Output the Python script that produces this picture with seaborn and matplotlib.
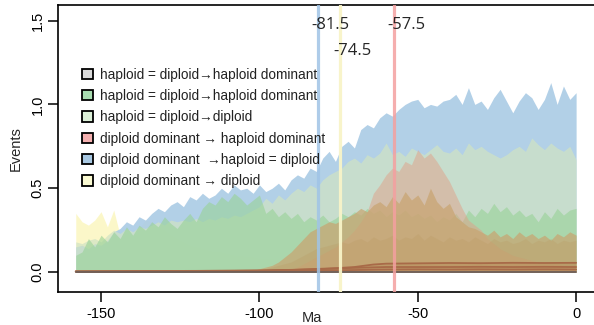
import numpy as np
import pandas as pd
import matplotlib
matplotlib.use("Agg")
import matplotlib.pyplot as plt
from matplotlib.patches import Patch
import seaborn as sns

# ---------------- data ----------------
ma = list(range(-158, 1, 2))  # 80 time points (Ma)

blue = [0.15, 0.16, 0.14, 0.17, 0.16, 0.19, 0.24, 0.26, 0.30, 0.28,
        0.33, 0.31, 0.35, 0.38, 0.36, 0.40, 0.42, 0.39, 0.45, 0.43,
        0.47, 0.44, 0.46, 0.50, 0.47, 0.52, 0.49, 0.50, 0.47, 0.52,
        0.48, 0.50, 0.53, 0.49, 0.55, 0.58, 0.56, 0.62, 0.60, 0.68,
        0.72, 0.66, 0.75, 0.78, 0.74, 0.85, 0.88, 0.86, 0.92, 0.95,
        0.93, 0.97, 1.00, 1.02, 1.03, 0.98, 1.00, 0.99, 1.02, 1.03,
        1.06, 1.00, 1.10, 1.00, 1.02, 0.97, 1.04, 1.09, 1.02, 0.95,
        1.02, 1.07, 1.04, 0.97, 1.03, 1.13, 1.00, 1.11, 1.03, 1.07]

light_green = [0.18, 0.17, 0.19, 0.20, 0.18, 0.22, 0.25, 0.23, 0.26, 0.24,
               0.27, 0.26, 0.28, 0.30, 0.28, 0.31, 0.30, 0.31, 0.30, 0.32,
               0.30, 0.32, 0.31, 0.33, 0.32, 0.34, 0.33, 0.35, 0.37, 0.39,
               0.44, 0.41, 0.46, 0.43, 0.47, 0.50, 0.48, 0.52, 0.50, 0.55,
               0.58, 0.60, 0.62, 0.66, 0.68, 0.65, 0.70, 0.68, 0.71, 0.77,
               0.70, 0.72, 0.69, 0.74, 0.72, 0.70, 0.73, 0.76, 0.72, 0.71,
               0.74, 0.70, 0.77, 0.73, 0.75, 0.72, 0.70, 0.68, 0.70, 0.73,
               0.75, 0.72, 0.80, 0.76, 0.73, 0.77, 0.74, 0.72, 0.75, 0.67]

green = [0.10, 0.12, 0.20, 0.15, 0.22, 0.18, 0.24, 0.20, 0.27, 0.22,
         0.28, 0.25, 0.30, 0.27, 0.33, 0.29, 0.26, 0.31, 0.35, 0.30,
         0.38, 0.42, 0.40, 0.45, 0.42, 0.47, 0.44, 0.40, 0.43, 0.46,
         0.35, 0.38, 0.33, 0.36, 0.32, 0.35, 0.30, 0.33, 0.31, 0.34,
         0.30, 0.32, 0.35, 0.33, 0.36, 0.34, 0.38, 0.35, 0.37, 0.33,
         0.36, 0.34, 0.37, 0.33, 0.35, 0.32, 0.34, 0.30, 0.33, 0.31,
         0.35, 0.30, 0.37, 0.33, 0.38, 0.35, 0.41, 0.36, 0.39, 0.34,
         0.37, 0.33, 0.35, 0.30, 0.36, 0.32, 0.38, 0.34, 0.37, 0.38]

yellow = [0.35, 0.30, 0.28, 0.31, 0.36, 0.27, 0.37, 0.22, 0.24, 0.20,
          0.26, 0.31, 0.30, 0.27, 0.25, 0.22, 0.20, 0.18, 0.16, 0.15,
          0.14, 0.13, 0.12, 0.12, 0.11, 0.10, 0.10, 0.09, 0.09, 0.08,
          0.08, 0.08, 0.07, 0.08, 0.07, 0.07, 0.08, 0.07, 0.06, 0.07,
          0.06, 0.07, 0.06, 0.06, 0.07, 0.06, 0.06, 0.05, 0.06, 0.06,
          0.05, 0.06, 0.05, 0.06, 0.05, 0.05, 0.06, 0.05, 0.05, 0.05,
          0.05, 0.05, 0.04, 0.05, 0.05, 0.04, 0.05, 0.04, 0.05, 0.04,
          0.04, 0.05, 0.04, 0.04, 0.05, 0.04, 0.04, 0.04, 0.05, 0.04]

pink = [0.00, 0.00, 0.00, 0.00, 0.00, 0.00, 0.00, 0.00, 0.00, 0.00,
        0.00, 0.00, 0.00, 0.00, 0.00, 0.00, 0.00, 0.00, 0.00, 0.00,
        0.00, 0.00, 0.00, 0.00, 0.00, 0.00, 0.00, 0.00, 0.00, 0.00,
        0.00, 0.00, 0.00, 0.01, 0.02, 0.03, 0.05, 0.07, 0.09, 0.11,
        0.13, 0.15, 0.18, 0.21, 0.25, 0.30, 0.36, 0.47, 0.52, 0.58,
        0.62, 0.60, 0.66, 0.64, 0.73, 0.68, 0.71, 0.66, 0.60, 0.54,
        0.46, 0.38, 0.31, 0.28, 0.25, 0.20, 0.17, 0.14, 0.12, 0.10,
        0.09, 0.08, 0.07, 0.06, 0.06, 0.05, 0.05, 0.04, 0.04, 0.04]

tan_peak = [0.00, 0.00, 0.00, 0.00, 0.00, 0.00, 0.00, 0.00, 0.00, 0.00,
            0.00, 0.00, 0.00, 0.00, 0.00, 0.00, 0.00, 0.00, 0.00, 0.00,
            0.00, 0.00, 0.00, 0.00, 0.00, 0.00, 0.00, 0.00, 0.01, 0.02,
            0.03, 0.04, 0.06, 0.09, 0.12, 0.16, 0.20, 0.24, 0.26, 0.28,
            0.30, 0.29, 0.31, 0.33, 0.35, 0.38, 0.36, 0.40, 0.42, 0.39,
            0.45, 0.41, 0.48, 0.43, 0.46, 0.40, 0.50, 0.42, 0.38, 0.41,
            0.33, 0.30, 0.27, 0.26, 0.24, 0.22, 0.25, 0.21, 0.23, 0.20,
            0.24, 0.21, 0.23, 0.20, 0.22, 0.19, 0.23, 0.21, 0.24, 0.22]

tan_low = [0.00, 0.00, 0.00, 0.00, 0.00, 0.00, 0.00, 0.00, 0.00, 0.00,
           0.00, 0.00, 0.00, 0.00, 0.00, 0.00, 0.00, 0.00, 0.00, 0.00,
           0.00, 0.00, 0.00, 0.00, 0.00, 0.00, 0.00, 0.00, 0.00, 0.01,
           0.02, 0.03, 0.04, 0.05, 0.06, 0.08, 0.10, 0.12, 0.14, 0.15,
           0.16, 0.17, 0.18, 0.17, 0.19, 0.20, 0.18, 0.21, 0.19, 0.20,
           0.22, 0.19, 0.21, 0.20, 0.23, 0.19, 0.22, 0.20, 0.18, 0.21,
           0.19, 0.20, 0.18, 0.21, 0.19, 0.17, 0.20, 0.18, 0.19, 0.17,
           0.18, 0.20, 0.17, 0.19, 0.18, 0.20, 0.17, 0.19, 0.18, 0.19]

# thin series near zero
ma_low = [-158, -140, -120, -100, -90, -80, -70, -64, -60, -50, -40, -30, -20, -10, 0]
low_a = [0.005, 0.006, 0.007, 0.010, 0.013, 0.018, 0.030, 0.045, 0.050, 0.052, 0.054, 0.053, 0.055, 0.054, 0.055]
low_b = [0.003, 0.004, 0.005, 0.008, 0.012, 0.020, 0.025, 0.028, 0.030, 0.030, 0.030, 0.031, 0.030, 0.031, 0.030]
low_c = [0.002, 0.003, 0.004, 0.006, 0.008, 0.010, 0.012, 0.014, 0.015, 0.016, 0.015, 0.016, 0.015, 0.016, 0.015]
grey = [0.001, 0.001, 0.001, 0.001, 0.001, 0.001, 0.001, 0.001, 0.001, 0.001, 0.001, 0.001, 0.001, 0.001, 0.001]

event_times = [-81.5, -74.5, -57.5]
event_labels = ["-81.5", "-74.5", "-57.5"]

legend_labels = [
    "haploid = diploid\u2192haploid dominant",
    "haploid = diploid\u2192haploid dominant",
    "haploid = diploid\u2192diploid",
    "diploid dominant \u2192 haploid dominant",
    "diploid dominant  \u2192haploid = diploid",
    "diploid dominant \u2192 diploid",
]
legend_colors = ["#d9d9d9", "#a8dcb0", "#dcf0d8", "#f4b0b0", "#a8c8e2", "#fafad2"]

# ---------------- figure ----------------
sns.set_theme(style="ticks")
plt.rcParams["font.family"] = ["Liberation Sans", "DejaVu Sans"]

fig = plt.figure(figsize=(5.94, 3.25), dpi=100)
W, H = 594, 325
ax = fig.add_axes([58 / W, 1 - 292 / H, 536.8 / W, (292 - 5) / H])

df = pd.DataFrame({"Ma": ma, "yellow": yellow, "blue": blue, "light_green": light_green,
                   "green": green, "pink": pink, "tan_peak": tan_peak, "tan_low": tan_low})

fills = [("yellow", "#fbf7c4", 0.9),
         ("blue", "#aacbe5", 0.9),
         ("light_green", "#d0e3c4", 0.72),
         ("green", "#98d296", 0.6),
         ("pink", "#e0a088", 0.5),
         ("tan_peak", "#c8a470", 0.7),
         ("tan_low", "#b89860", 0.25)]
for col, c, a in fills:
    ax.fill_between(df["Ma"], 0, df[col], color=c, alpha=a, lw=0)

low = pd.DataFrame({"Ma": ma_low, "a": low_a, "b": low_b, "c": low_c, "g": grey})
ax.fill_between(low["Ma"], 0, low["a"], color="#b08050", alpha=0.35, lw=0)
for col, c in [("a", "#a86a48"), ("b", "#a86a48"), ("c", "#a86a48"), ("g", "#6e5e58")]:
    sns.lineplot(data=low, x="Ma", y=col, ax=ax, color=c, lw=1.3, legend=False)

line_cols = ["#a0c4e6", "#f8f4c8", "#f4a0a0"]
line_alpha = [0.85, 0.95, 0.85]
for t, c, a in zip(event_times, line_cols, line_alpha):
    ax.axvline(t, color=c, lw=2.3, alpha=a, zorder=5)

ax.set_xlim(-163.6, 5.9)
ax.set_ylim(-0.119, 1.593)

ann_y = [1.473, 1.321, 1.473]
for t, lab, yy in zip(event_times, event_labels, ann_y):
    ax.text(t + 4, yy, lab, ha="center", va="center",
            fontsize=12, family=["Open Sans", "DejaVu Sans"], zorder=6)

ax.set_xticks([-150, -100, -50, 0])
ax.set_xticklabels(["-150", "-100", "-50", "0"])
ax.set_yticks([0.0, 0.5, 1.0, 1.5])
ax.set_yticklabels(["0.0", "0.5", "1.0", "1.5"], rotation=90, va="center")
ax.tick_params(axis="both", direction="out", length=7, width=1.1, labelsize=10.5,
               colors="black", pad=2.5)
ax.tick_params(axis="x", pad=4)
for s in ["left", "top", "bottom"]:
    ax.spines[s].set_linewidth(1.2)
    ax.spines[s].set_color("black")
ax.spines["right"].set_visible(False)
ax.set_xlabel("")
ax.set_ylabel("Events", fontsize=10.5, labelpad=6)
fig.text(312 / W, 0.0, "Ma", ha="center", va="bottom", fontsize=10.5)

handles = [Patch(facecolor=c, edgecolor="black", linewidth=1.3) for c in legend_colors]
leg = ax.legend(handles, legend_labels, loc="upper left",
                bbox_to_anchor=(82 / W, 1 - 67.5 / H), bbox_transform=fig.transFigure,
                frameon=False, fontsize=9.8, handlelength=0.8, handleheight=0.8,
                handletextpad=0.5, labelspacing=0.54, borderpad=0, borderaxespad=0)
for t in leg.get_texts():
    t.set_color("#222222")

fig.savefig("out.png", dpi=100)
